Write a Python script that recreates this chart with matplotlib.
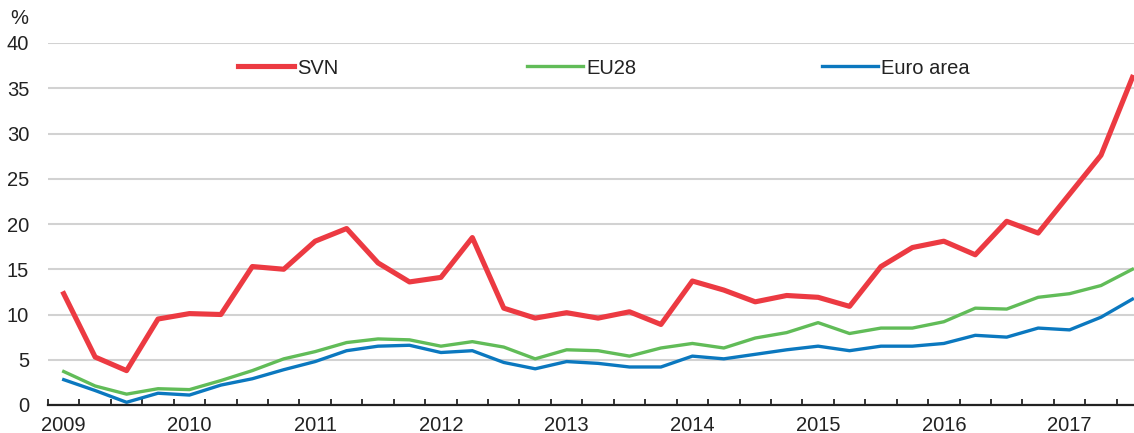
import matplotlib
matplotlib.use("Agg")
import matplotlib.pyplot as plt
from matplotlib.legend import Legend
import numpy as np

years = ["2009", "2010", "2011", "2012", "2013", "2014", "2015", "2016", "2017"]
svn = [12.3, 5.3, 3.8, 9.5, 10.1, 10.0, 15.3, 15.0, 18.1, 19.5, 15.7, 13.6, 14.1, 18.5,
       10.7, 9.6, 10.2, 9.6, 10.3, 8.9, 13.7, 12.7, 11.4, 12.1, 11.9, 10.9, 15.3, 17.4,
       18.1, 16.6, 20.3, 19.0, 23.3, 27.6, 36.2]
eu28 = [3.7, 2.1, 1.2, 1.8, 1.7, 2.7, 3.8, 5.1, 5.9, 6.9, 7.3, 7.2, 6.5, 7.0,
        6.4, 5.1, 6.1, 6.0, 5.4, 6.3, 6.8, 6.3, 7.4, 8.0, 9.1, 7.9, 8.5, 8.5,
        9.2, 10.7, 10.6, 11.9, 12.3, 13.2, 15.0]
euro = [2.8, 1.6, 0.3, 1.3, 1.1, 2.2, 2.9, 3.9, 4.8, 6.0, 6.5, 6.6, 5.8, 6.0,
        4.7, 4.0, 4.8, 4.6, 4.2, 4.2, 5.4, 5.1, 5.6, 6.1, 6.5, 6.0, 6.5, 6.5,
        6.8, 7.7, 7.5, 8.5, 8.3, 9.7, 11.7]

plt.rcParams['font.family'] = ['Liberation Sans', 'DejaVu Sans']
FS = 14.5

W, H = 1134, 433
fig = plt.figure(figsize=(W / 100, H / 100), dpi=100)
ax = fig.add_axes([48 / W, 28 / H, 1086 / W, 362 / H])

x = np.arange(len(svn))
red, green, blue = '#EC3A42', '#61BC58', '#0B78BF'
l1, = ax.plot(x, svn, color=red, lw=3.7, label='SVN', zorder=4)
l2, = ax.plot(x, eu28, color=green, lw=2.4, label='EU28', zorder=3)
l3, = ax.plot(x, euro, color=blue, lw=2.4, label='Euro area', zorder=3)

ax.set_xlim(-0.5, 34.05)
ax.set_ylim(0, 40)
ax.set_yticks(np.arange(0, 41, 5))
ax.yaxis.grid(True, color='#D2D2D2', lw=1.5)
ax.set_axisbelow(True)
ax.tick_params(axis='y', length=0, pad=13.5, labelcolor='#222222', labelsize=FS)

ax.set_xticks(np.arange(0, 35, 4))
ax.set_xticklabels(years)
ax.set_xticks(np.arange(-0.5, 34, 1), minor=True)
ax.tick_params(axis='x', which='major', length=0, pad=8, labelcolor='#222222', labelsize=FS)
ax.tick_params(axis='x', which='minor', direction='in', length=4.5, width=1.3, color='#222222')

for s in ['left', 'right', 'top']:
    ax.spines[s].set_visible(False)
ax.spines['bottom'].set_color('#222222')
ax.spines['bottom'].set_linewidth(1.6)
ax.spines['bottom'].set_zorder(5)

# legend entries, one per series, placed along the top of the plot
ax_w = 1086
leg_y = (405 - 68) / 362
starts = [238, 527, 822]
handles = [l1, l2, l3]
for h, sx in zip(handles, starts):
    lg = Legend(ax, [h], [h.get_label()], loc='center left',
                bbox_to_anchor=((sx - 48) / ax_w, leg_y),
                frameon=False, handlelength=56 / (FS * 100 / 72), handletextpad=0.15,
                borderpad=0, borderaxespad=0, fontsize=FS)
    for t in lg.get_texts():
        t.set_color('#222222')
    ax.add_artist(lg)

fig.text(10 / W, 1 - 19 / H, '%', ha='left', va='center', fontsize=FS, color='#222222')

fig.savefig('out.png', dpi=100)
